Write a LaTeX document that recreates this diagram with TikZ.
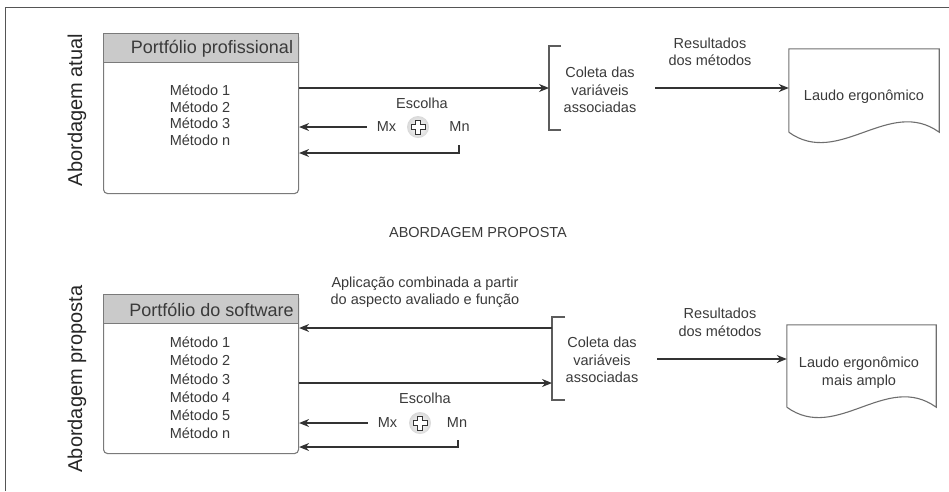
\documentclass[tikz,border=0pt]{standalone}
\usepackage{fontspec}
\setmainfont{Liberation Sans}
\usetikzlibrary{arrows.meta,calc}
\definecolor{ln}{HTML}{333333}
\definecolor{tx}{HTML}{3A3A3A}
\definecolor{hd}{HTML}{CACACA}
\definecolor{bd}{HTML}{7A7A7A}
\definecolor{fr}{HTML}{555555}
\tikzset{
  txt/.style={font=\fontsize{14.5}{17.5}\selectfont, text=tx, align=center, inner sep=0pt},
  arr/.style={draw=ln, line width=1.2pt, -{Stealth[length=10pt,width=8pt]}},
  plainline/.style={draw=ln, line width=1.2pt},
  bracketline/.style={draw=ln!80, line width=1.1pt},
  boxshape/.style={draw=bd, line width=1.1pt, rounded corners=4pt, minimum width=195pt, fill=white, inner sep=0pt},
  headershape/.style={draw=bd, fill=hd, line width=1.1pt, minimum width=195pt, minimum height=29pt, inner sep=0pt},
  headertext/.style={font=\fontsize{18}{20}\selectfont, text=tx, inner sep=0pt},
  sidelabel/.style={font=\fontsize{20}{22}\selectfont, rotate=90, text=black!85, inner sep=0pt},
  docarea/.style={minimum width=150pt, minimum height=83pt, inner sep=0pt},
  docline/.style={draw=bd!90!black, line width=1.1pt},
  plusc/.style={circle, minimum size=22pt, inner sep=0pt, inner color=white, outer color=gray!30},
  pluscross/.pic={
    \draw[draw=ln, line width=0.8pt, fill=white]
      (-2.5,-7) -- (2.5,-7) -- (2.5,-2.5) -- (7,-2.5) -- (7,2.5) -- (2.5,2.5) -- (2.5,7)
      -- (-2.5,7) -- (-2.5,2.5) -- (-7,2.5) -- (-7,-2.5) -- (-2.5,-2.5) -- cycle;
  }
}
\begin{document}
\begin{tikzpicture}[x=1pt,y=-1pt]
\useasboundingbox (0,0) rectangle (949,491);
% frame
\draw[fr, line width=1pt] (5,491) -- (5,7) -- (949,7);

% ================= TOP =================
\node[sidelabel] (side1) at (77,110) {Abordagem atual};
\node[boxshape, minimum height=160pt, anchor=north west] (box1) at (103,33) {};
\node[headershape, anchor=north west] (head1) at (103,33) {};
\node[headertext] (ht1) at (212,48.5) {Portfólio profissional};
\node[txt, font=\fontsize{14.5}{16.5}\selectfont] (meth1) at (200,115) {Método 1\\Método 2\\Método 3\\Método n};

\coordinate (br1) at (549,88);
\draw[bracketline] (561,46) -- (549,46) -- (549,130) -- (561,130);
\node[txt] (col1) at (600,90) {Coleta das\\variáveis\\associadas};
\draw[arr] (box1.east |- br1) -- (br1);

\node[txt] (res1) at (710,52) {Resultados\\dos métodos};
\node[docarea] (doc1) at (864,90.5) {};
\draw[docline] (doc1.south west) -- (doc1.north west) -- (doc1.north east) -- (doc1.south east)
  .. controls ($(doc1.south east)+(-50,-36)$) and ($(doc1.south west)+(50,36)$) .. (doc1.south west);
\node[txt] (laudo1) at (864,97) {Laudo ergonômico};
\coordinate (c1out) at (655,88);
\draw[arr] (c1out) -- (doc1.west |- c1out);

\node[txt] (esc1) at (422,103) {Escolha};
\node[txt] (mx1) at (386.5,127) {Mx};
\node[plusc] (plus1) at (418,127) {};
\pic at (plus1) {pluscross};
\node[txt] (mn1) at (459.5,127) {Mn};
\draw[arr] ([xshift=-10pt]mx1.west) -- (box1.east |- mx1);
\coordinate (mn1d) at (459,145);
\coordinate (r1y) at (0,153);
\draw[arr] (mn1d) |- (box1.east |- r1y);

\node[txt] (abp) at (478,233) {ABORDAGEM PROPOSTA};

% ================= BOTTOM =================
\node[sidelabel] (side2) at (77,379) {Abordagem proposta};
\node[boxshape, minimum height=159pt, anchor=north west] (box2) at (103,294) {};
\node[headershape, anchor=north west] (head2) at (103,294) {};
\node[headertext] (ht2) at (211.5,310) {Portfólio do software};
\node[txt, font=\fontsize{14.5}{18.2}\selectfont] (meth2) at (200,388) {Método 1\\Método 2\\Método 3\\Método 4\\Método 5\\Método n};

\coordinate (br2a) at (552,328);
\coordinate (br2b) at (552,383);
\draw[bracketline] (565,317) -- (552,317) -- (552,400) -- (565,400);
\node[txt] (col2) at (602,360) {Coleta das\\variáveis\\associadas};
\node[txt] (apl) at (425,292.5) {Aplicação combinada a partir\\do aspecto avaliado e função};
\draw[arr] (br2a) -- (box2.east |- br2a);
\draw[arr] (box2.east |- br2b) -- (br2b);

\node[txt] (res2) at (720,322.5) {Resultados\\dos métodos};
\node[docarea, minimum width=149pt, minimum height=82pt] (doc2) at (861.5,366) {};
\draw[docline] (doc2.south west) -- (doc2.north west) -- (doc2.north east) -- (doc2.south east)
  .. controls ($(doc2.south east)+(-50,-36)$) and ($(doc2.south west)+(50,36)$) .. (doc2.south west);
\node[txt] (laudo2) at (859,372.5) {Laudo ergonômico\\mais amplo};
\coordinate (c2out) at (657,359);
\draw[arr] (c2out) -- (doc2.west |- c2out);

\node[txt] (esc2) at (425,398) {Escolha};
\node[txt] (mx2) at (387.5,423) {Mx};
\node[plusc] (plus2) at (420,423) {};
\pic at (plus2) {pluscross};
\node[txt] (mn2) at (457,423) {Mn};
\draw[arr] ([xshift=-10pt]mx2.west) -- (box2.east |- mx2);
\coordinate (mn2d) at (458,440);
\coordinate (r2y) at (0,447);
\draw[arr] (mn2d) |- (box2.east |- r2y);
\end{tikzpicture}
\end{document}
